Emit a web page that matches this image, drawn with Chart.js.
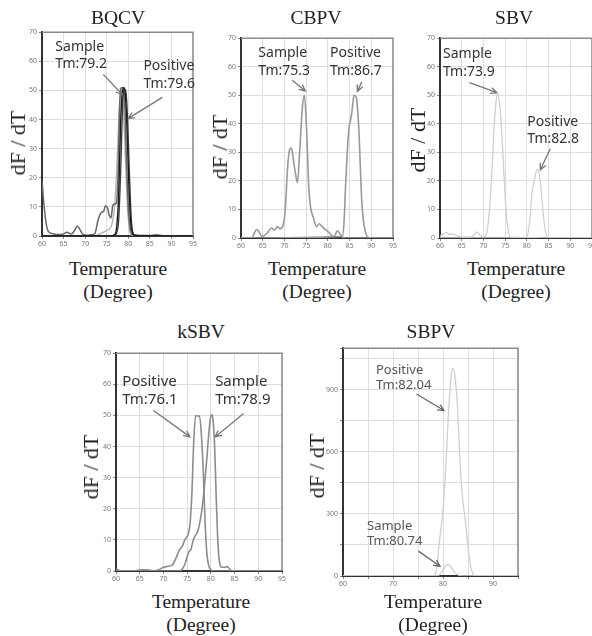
<!DOCTYPE html>
<html>
<head>
<meta charset="utf-8">
<script src="https://cdn.jsdelivr.net/npm/chart.js@4.4.0/dist/chart.umd.min.js"></script>
<style>
  body { margin: 0; background: #fff; width: 592px; height: 636px; position: relative; overflow: hidden;
         font-family: "Liberation Serif", "Times New Roman", serif; color: #222; }
  canvas { position: absolute; }
  .t { position: absolute; transform: translate(-50%, -50%); white-space: nowrap; font-size: 19.5px; line-height: 1; }
  .yl { position: absolute; transform: translate(-50%, -50%) rotate(-90deg); white-space: nowrap; font-size: 22px; line-height: 1; }
</style>
</head>
<body>
<canvas id="bqcv"></canvas>
<canvas id="cbpv"></canvas>
<canvas id="sbv"></canvas>
<canvas id="ksbv"></canvas>
<canvas id="sbpv"></canvas>

<div class="t" style="left:118px;top:18px">BQCV</div>
<div class="t" style="left:316px;top:18px">CBPV</div>
<div class="t" style="left:514px;top:18px">SBV</div>
<div class="t" style="left:201px;top:332px">kSBV</div>
<div class="t" style="left:431px;top:332px">SBPV</div>

<div class="yl" style="left:18px;top:143px">dF / dT</div>
<div class="yl" style="left:220px;top:147px">dF / dT</div>
<div class="yl" style="left:418px;top:140px">dF / dT</div>
<div class="yl" style="left:91px;top:467px">dF / dT</div>
<div class="yl" style="left:317px;top:466px">dF / dT</div>

<div class="t" style="left:118px;top:269px">Temperature</div>
<div class="t" style="left:118px;top:292px">(Degree)</div>
<div class="t" style="left:317px;top:269px">Temperature</div>
<div class="t" style="left:317px;top:292px">(Degree)</div>
<div class="t" style="left:516px;top:269px">Temperature</div>
<div class="t" style="left:516px;top:292px">(Degree)</div>
<div class="t" style="left:201px;top:602px">Temperature</div>
<div class="t" style="left:201px;top:625px">(Degree)</div>
<div class="t" style="left:433px;top:602px">Temperature</div>
<div class="t" style="left:433px;top:625px">(Degree)</div>

<script>
// BQCV
const bqcvSampleT = [60, 60.5, 61, 61.5, 62.5, 64, 65, 65.8, 66.8, 67.5, 68.2, 68.8, 69.5, 70.5, 71.5, 72.3, 73, 73.7, 74.3, 74.7, 75.2, 75.6, 76, 76.4, 76.8, 77.2, 77.6, 78, 78.5, 79, 79.5, 80, 80.5, 81, 82, 85, 86.5, 88, 95];
const bqcvSampleY = [19, 10, 4, 1.5, 0.8, 0.5, 0.7, 1.3, 0.7, 1.8, 3.4, 2.2, 0.5, 0.3, 0.4, 1, 5.5, 8, 8.5, 10.4, 9.5, 7, 6.2, 10.5, 11, 11.2, 20, 45, 51, 50, 30, 10, 2, 0.5, 0.2, 0.2, 0.4, 0.1, 0];
const bqcvDark1T = [60, 76, 76.8, 77.3, 77.8, 78.2, 78.6, 79, 79.4, 79.8, 80.2, 80.6, 81, 81.5, 83, 95];
const bqcvDark1Y = [0, 0, 0.5, 3, 15, 38, 49, 51, 47, 33, 15, 4, 1, 0.3, 0.1, 0];
const bqcvDark2T = [60, 76.5, 77.3, 77.8, 78.3, 78.7, 79.1, 79.5, 79.9, 80.3, 80.7, 81.1, 81.6, 95];
const bqcvDark2Y = [0, 0, 1, 6, 25, 45, 50.5, 49, 38, 20, 6, 1, 0.2, 0];
const bqcvLightT = [60, 72, 73.5, 74.5, 75.5, 76.2, 76.8, 77.3, 77.8, 78.3, 78.8, 79.3, 79.8, 80.3, 80.8, 95];
const bqcvLightY = [0, 0, 0.8, 1.5, 2.3, 4, 10, 22, 40, 50, 45, 28, 10, 2, 0.3, 0];

// CBPV
const cbpvSampleT = [60, 62.5, 63, 63.6, 64.2, 64.8, 65.5, 66.2, 67, 67.7, 68.4, 69, 69.7, 70.2, 70.7, 71.2, 71.6, 72.1, 72.6, 73, 73.5, 74.1, 74.6, 75.1, 75.6, 76, 76.7, 77.4, 78, 78.7, 79.4, 80.2, 80.8, 81.4, 82.2, 82.8, 83.4, 84, 95];
const cbpvSampleY = [0, 0, 1.5, 3, 2, 0.5, 1, 2, 3.5, 2.8, 4, 3.2, 4.5, 10, 24, 31, 31.5, 27, 22, 19.5, 30, 45, 50, 38, 18, 11, 7, 4, 5, 4, 3, 2, 1, 0.5, 2.5, 1.5, 0.3, 0, 0];
const cbpvPositiveT = [60, 83.3, 83.7, 84.1, 84.5, 84.9, 85.2, 85.6, 86, 86.5, 86.9, 87.2, 87.5, 87.8, 88.2, 88.6, 89.2, 90, 95];
const cbpvPositiveY = [0, 0.5, 5, 19, 31, 39, 41, 45, 50, 49.5, 44, 36, 24, 13, 6, 2.5, 0.3, 0, 0];

// SBV
const sbvSampleT = [60, 60.8, 61.5, 62.2, 62.8, 63.5, 64.3, 65.5, 67, 67.8, 68.5, 69.2, 70, 70.5, 71, 71.5, 72, 72.5, 73, 73.3, 73.8, 74.3, 74.8, 75.3, 75.8, 76.3, 95];
const sbvSampleY = [0.5, 1.5, 2, 1.2, 1.4, 1.1, 0.6, 0.3, 0.3, 1, 2.1, 1, 0.4, 0.6, 4, 12, 25, 40, 49, 50.5, 46, 35, 20, 8, 2, 0.3, 0];
const sbvPositiveT = [60, 79.8, 80.3, 80.8, 81.2, 81.6, 82.1, 82.5, 83, 83.5, 84, 84.5, 85, 95];
const sbvPositiveY = [0, 0, 2, 8, 16, 19, 23, 24, 21, 13, 5, 1, 0, 0];

// kSBV
const ksbvPositiveT = [60, 61, 64, 65.5, 66.5, 68, 69, 69.9, 70.8, 71.8, 72.6, 73.4, 74, 74.5, 75.2, 75.6, 76, 76.4, 76.8, 77.2, 77.6, 78, 78.4, 78.8, 79.2, 79.6, 80.1, 80.6, 95];
const ksbvPositiveY = [0.6, 0.1, 0.1, 0.4, 0.4, 0.1, 0.4, 1.1, 1.5, 1.8, 4, 6.8, 8, 10, 11.7, 15, 25, 42, 50, 49.8, 49.8, 44, 32, 15, 5, 1.5, 0.3, 0, 0];
const ksbvSampleT = [60, 73, 73.8, 74.6, 75.3, 75.8, 76.3, 76.8, 77.2, 77.6, 78.1, 78.5, 78.8, 79.2, 79.5, 79.9, 80.2, 80.5, 80.8, 81.1, 81.4, 81.8, 82.3, 82.8, 83.4, 83.9, 84.4, 95];
const ksbvSampleY = [0, 0, 0.3, 2.5, 6, 7, 10, 11.5, 12.6, 15, 19.6, 25, 30, 37, 43, 49, 50.3, 48, 40, 25, 12, 3, 1.2, 1.2, 1.4, 0.8, 0.1, 0];

// SBPV
const sbpvPositiveT = [60, 78, 78.6, 79.2, 79.6, 80, 80.4, 80.8, 81.1, 81.4, 81.7, 82.1, 82.4, 82.8, 83.2, 83.6, 84, 84.5, 85, 85.5, 86, 86.5, 95];
const sbpvPositiveY = [0, 0, 20, 150, 230, 320, 460, 640, 790, 900, 985, 1003, 960, 860, 660, 470, 360, 260, 140, 50, 10, 1, 0];
const sbpvSampleT = [60, 78.5, 79.2, 79.7, 80.2, 80.6, 81, 81.4, 81.8, 82.3, 82.8, 83.4, 84, 95];
const sbpvSampleY = [0, 0, 5, 18, 35, 50, 56, 50, 38, 20, 8, 2, 0, 0];

const PAD = { l: 28, t: 6, r: 10, b: 16 };

function pts(T, Y) { return T.map((t, i) => ({ x: t, y: Y[i] })); }
function line(T, Y, color, width) {
  return { data: pts(T, Y), borderColor: color, borderWidth: width, pointRadius: 0,
           fill: false, tension: 0.4, cubicInterpolationMode: 'monotone' };
}

// top and right edges of the frame
const framePlugin = {
  id: 'frame',
  afterDatasetsDraw(chart) {
    const { ctx, chartArea: a } = chart;
    ctx.save();
    ctx.strokeStyle = '#8a8a8a';
    ctx.lineWidth = 1.5;
    ctx.beginPath();
    ctx.moveTo(a.left, a.top);
    ctx.lineTo(a.right, a.top);
    ctx.lineTo(a.right, a.bottom);
    ctx.stroke();
    ctx.restore();
  }
};

// Tm labels and arrows, placed in data coordinates
const notesPlugin = {
  id: 'notes',
  afterDraw(chart, args, opts) {
    const { ctx, scales: { x, y } } = chart;
    ctx.save();
    (opts.items || []).forEach(n => {
      ctx.font = opts.font;
      ctx.fillStyle = opts.color;
      ctx.textBaseline = 'alphabetic';
      const px = x.getPixelForValue(n.x), py = y.getPixelForValue(n.y);
      n.lines.forEach((s, i) => ctx.fillText(s, px, py + i * opts.gap));
      const x1 = x.getPixelForValue(n.from[0]), y1 = y.getPixelForValue(n.from[1]);
      const x2 = x.getPixelForValue(n.to[0]), y2 = y.getPixelForValue(n.to[1]);
      const ang = Math.atan2(y2 - y1, x2 - x1);
      ctx.strokeStyle = opts.arrow;
      ctx.lineWidth = 1.3;
      ctx.beginPath();
      ctx.moveTo(x1, y1);
      ctx.lineTo(x2, y2);
      ctx.moveTo(x2 - 7 * Math.cos(ang - 0.45), y2 - 7 * Math.sin(ang - 0.45));
      ctx.lineTo(x2, y2);
      ctx.lineTo(x2 - 7 * Math.cos(ang + 0.45), y2 - 7 * Math.sin(ang + 0.45));
      ctx.stroke();
    });
    ctx.restore();
  }
};

function makeChart(id, area, datasets, yMax, yStep, xEvery, yEvery, notes) {
  const cv = document.getElementById(id);
  const w = Math.round(area.w) + PAD.l + PAD.r, h = Math.round(area.h) + PAD.t + PAD.b;
  cv.width = w; cv.height = h;
  cv.style.left = (area.x - PAD.l) + 'px';
  cv.style.top = (area.y - PAD.t) + 'px';
  cv.style.width = w + 'px';
  cv.style.height = h + 'px';
  const tickFont = { size: 7, family: 'Noto Sans' };
  return new Chart(cv, {
    type: 'line',
    data: { datasets: datasets },
    options: {
      responsive: false,
      animation: false,
      layout: { padding: { left: 0, top: PAD.t, right: PAD.r, bottom: 0 } },
      plugins: { legend: { display: false }, tooltip: { enabled: false }, notes: notes },
      scales: {
        x: {
          type: 'linear', min: 60, max: 95,
          afterFit(s) { s.height = PAD.b; },
          ticks: { stepSize: 5, autoSkip: false, maxRotation: 0, font: tickFont, color: '#777', padding: 1,
                   callback: v => (v % xEvery === 0 ? v : '') },
          grid: { color: '#dedede', tickLength: 3, tickColor: '#888' },
          border: { color: '#333', width: 2 }
        },
        y: {
          min: 0, max: yMax,
          afterFit(s) { s.width = PAD.l; },
          ticks: { stepSize: yStep, autoSkip: false, font: tickFont, color: '#777', padding: 2,
                   callback: v => (v % yEvery === 0 ? v : '') },
          grid: { color: '#dedede', tickLength: 3, tickColor: '#888' },
          border: { color: '#333', width: 2 }
        }
      }
    },
    plugins: [framePlugin, notesPlugin]
  });
}

const noteStyle = { font: '14px "Noto Sans"', color: '#333', arrow: '#777', gap: 17.5 };

makeChart('bqcv', { x: 42, y: 32, w: 151, h: 204 }, [
  line(bqcvDark1T, bqcvDark1Y, '#1a1a1a', 1.4),
  line(bqcvDark2T, bqcvDark2Y, '#3a3a3a', 1.3),
  line(bqcvSampleT, bqcvSampleY, '#666', 1.5),
  line(bqcvLightT, bqcvLightY, '#b0b0b0', 1.3)
], 70, 10, 5, 10, Object.assign({}, noteStyle, { items: [
  { x: 63.1, y: 63.7, lines: ['Sample', 'Tm:79.2'], from: [74.2, 55.5], to: [78.6, 48.6] },
  { x: 83.5, y: 56.9, lines: ['Positive', 'Tm:79.6'], from: [87.9, 47.6], to: [80, 40.4] }
] }));

makeChart('cbpv', { x: 241, y: 38, w: 152, h: 200 }, [
  line(cbpvSampleT, cbpvSampleY, '#999', 1.6),
  line(cbpvPositiveT, cbpvPositiveY, '#999', 1.6)
], 70, 10, 5, 10, Object.assign({}, noteStyle, { items: [
  { x: 64, y: 63.3, lines: ['Sample', 'Tm:75.3'], from: [71.8, 55.3], to: [74.8, 51.5] },
  { x: 80.5, y: 63.3, lines: ['Positive', 'Tm:86.7'], from: [87.8, 54.7], to: [86.8, 51.4] }
] }));

makeChart('sbv', { x: 440, y: 38, w: 152, h: 200 }, [
  line(sbvSampleT, sbvSampleY, '#cfcfcf', 1.3),
  line(sbvPositiveT, sbvPositiveY, '#d2d2d2', 1.3)
], 70, 10, 5, 10, Object.assign({}, noteStyle, { items: [
  { x: 60.7, y: 62.9, lines: ['Sample', 'Tm:73.9'], from: [66.8, 54.4], to: [73.1, 50.9] },
  { x: 80.1, y: 39.4, lines: ['Positive', 'Tm:82.8'], from: [85.4, 31.3], to: [83.1, 23.9] }
] }));

makeChart('ksbv', { x: 116, y: 353, w: 166, h: 218 }, [
  line(ksbvPositiveT, ksbvPositiveY, '#8c8c8c', 1.6),
  line(ksbvSampleT, ksbvSampleY, '#8c8c8c', 1.6)
], 70, 10, 5, 10, Object.assign({}, noteStyle, { font: '15px "Noto Sans"', items: [
  { x: 61.3, y: 59.3, lines: ['Positive', 'Tm:76.1'], from: [67.9, 51.6], to: [75.6, 43.1] },
  { x: 80.9, y: 59.3, lines: ['Sample', 'Tm:78.9'], from: [86.9, 50.6], to: [80.9, 43.1] }
] }));

makeChart('sbpv', { x: 343, y: 348, w: 175, h: 228 }, [
  line(sbpvPositiveT, sbpvPositiveY, '#cfcfcf', 1.3),
  line(sbpvSampleT, sbpvSampleY, '#cfcfcf', 1.3)
], 1100, 150, 10, 300, { font: '13px "Noto Sans"', color: '#555', arrow: '#666', gap: 15, items: [
  { x: 66.6, y: 977, lines: ['Positive', 'Tm:82.04'], from: [74.7, 879], to: [80.2, 799] },
  { x: 64.8, y: 220, lines: ['Sample', 'Tm:80.74'], from: [75.1, 120], to: [79.4, 47] }
] });
</script>
</body>
</html>
